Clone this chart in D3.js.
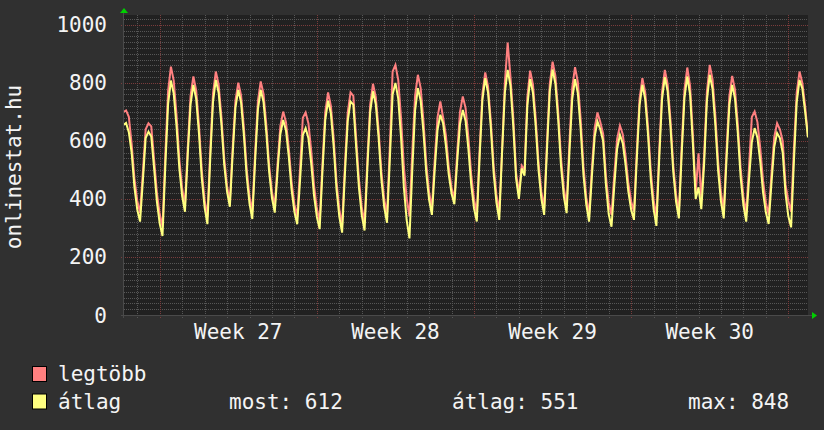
<!DOCTYPE html>
<html><head><meta charset="utf-8">
<script src="https://cdn.jsdelivr.net/npm/d3@7"></script>
<style>
html,body{margin:0;padding:0;background:#303030;}
svg{display:block;}
text{font-family:"DejaVu Sans Mono",monospace;fill:#f4f4f4;}
</style></head>
<body>
<svg id="chart" width="824" height="430"></svg>
<script>
// ---- data (3-hour samples starting 2012-06-30 09:00) ----
const seriesNames = ["legtöbb", "átlag"];
const seriesColors = ["#ff8080", "#ffff80"];
const sampleStart = new Date(2012, 5, 30, 9, 0);
const sampleStepHours = 3;
const viewStart = new Date(2012, 5, 30, 9, 50);
const viewEnd = new Date(2012, 6, 30, 21, 3);

const maxValues = [ // legtöbb
  700,705,683,590,470,
  394,352,491,640,661,650,536,422,
  347,304,552,773,856,808,689,536,
  436,379,578,756,822,774,653,498,
  397,339,564,764,839,794,682,539,
  445,391,576,740,801,757,645,503,
  409,356,558,738,805,762,654,516,
  425,373,521,652,701,665,574,458,
  382,339,501,680,698,660,566,446,
  367,322,522,700,767,721,607,461,
  365,310,516,698,767,755,610,466,
  372,318,534,725,797,752,639,494,
  399,345,578,839,862,810,679,512,
  403,340,560,755,828,782,667,520,
  423,368,534,681,736,680,618,510,
  439,399,558,700,753,713,612,484,
  399,351,569,763,836,788,668,514,
  414,356,566,800,939,820,680,490,
  420,515,500,750,842,795,676,524,
  425,368,595,797,873,824,700,542,
  438,379,593,783,854,803,676,513,
  406,345,504,645,698,665,625,480,
  387,345,484,607,653,623,549,454,
  392,356,563,747,816,768,649,496,
  396,339,567,769,845,796,674,517,
  415,356,580,778,853,790,620,420,
  557,400,550,770,862,812,687,527,
  422,362,570,755,824,777,658,507,
  408,351,509,682,701,665,576,462,
  388,345,487,614,661,640,600,450,
  393,356,573,767,839,800,720,615
];
const avgValues = [ // átlag
  655,662,630,560,440,
  363,322,462,610,632,615,506,391,
  315,272,513,728,808,763,650,505,
  410,356,553,727,793,745,625,471,
  371,313,537,735,810,766,657,517,
  425,373,554,716,776,732,620,478,
  384,331,531,709,776,734,628,493,
  404,353,497,624,672,636,546,431,
  356,313,462,620,644,609,522,411,
  338,296,495,673,739,694,580,434,
  339,284,487,668,736,725,580,438,
  344,291,507,699,771,726,612,467,
  372,318,535,760,800,746,612,441,
  328,264,497,704,782,738,629,489,
  397,345,500,638,690,660,582,484,
  419,382,528,658,707,669,572,449,
  368,322,544,742,816,767,645,489,
  387,328,561,767,845,790,650,470,
  400,505,480,720,813,766,649,499,
  401,345,570,771,846,797,673,514,
  410,351,559,744,813,764,641,484,
  381,322,477,615,667,640,600,450,
  348,304,447,573,621,592,518,425,
  363,328,537,723,793,744,623,467,
  365,307,538,743,820,771,650,494,
  391,333,553,749,822,760,590,400,
  440,365,520,740,828,779,655,496,
  392,333,540,724,793,746,628,477,
  379,322,467,596,644,611,529,423,
  354,314,455,580,627,610,560,420,
  341,302,531,734,810,780,700,612
];
const yTicks = [0, 200, 400, 600, 800, 1000];
const yMinorStep = 20;
const yMax = 1034;
const axisTitle = "onlinestat.hu";
const statLabels = ["most: 612", "átlag: 551", "max: 848"];

// ---- layout ----
const svg = d3.select("#chart");
const L = 124, R = 808, T = 15, B = 315;
const x = d3.scaleTime().domain([viewStart, viewEnd]).range([L, R]);
const y = d3.scaleLinear().domain([0, yMax]).range([B, T]);
const px = v => Math.round(v) + 0.5;

svg.append("rect").attr("width", 824).attr("height", 430).attr("fill", "#303030");
svg.append("rect").attr("x", L).attr("y", T).attr("width", R - L).attr("height", B - T).attr("fill", "#212121");

const grid = svg.append("g").attr("shape-rendering", "crispEdges");
// horizontal minor grid
d3.range(yMinorStep, yMax, yMinorStep).filter(v => v % 200 !== 0).forEach(v => {
  grid.append("line").attr("x1", L).attr("x2", R).attr("y1", px(y(v))).attr("y2", px(y(v)))
    .attr("stroke", "#565656").attr("stroke-dasharray", "1,1");
});
// vertical day grid
const days = d3.timeDay.range(d3.timeDay.ceil(viewStart), viewEnd);
days.forEach(d => {
  const major = d.getDay() === 1;
  grid.append("line").attr("x1", px(x(d))).attr("x2", px(x(d))).attr("y1", T).attr("y2", B + 3)
    .attr("stroke", major ? "#7a3c3c" : "#565656").attr("stroke-dasharray", "1,1");
});
// horizontal major grid
yTicks.filter(v => v > 0).forEach(v => {
  grid.append("line").attr("x1", L - 3).attr("x2", R).attr("y1", px(y(v))).attr("y2", px(y(v)))
    .attr("stroke", "#7a3c3c").attr("stroke-dasharray", "1,1");
});

// axes lines
grid.append("line").attr("x1", L - 3).attr("x2", R + 4).attr("y1", px(B)).attr("y2", px(B)).attr("stroke", "#4a4a4a");
grid.append("line").attr("x1", px(L - 1)).attr("x2", px(L - 1)).attr("y1", B + 3).attr("y2", T - 2).attr("stroke", "#4a4a4a");
// arrows
svg.append("path").attr("d", `M${R + 4},${B - 3} L${R + 9},${B + 0.5} L${R + 4},${B + 4} Z`).attr("fill", "#00d000");
svg.append("path").attr("d", `M${L - 4},${T - 2} L${L},${T - 7} L${L + 4},${T - 2} Z`).attr("fill", "#00d000");

// y labels
yTicks.forEach(v => {
  svg.append("text").attr("x", 107).attr("y", y(v) + 7.5).attr("text-anchor", "end")
    .attr("font-size", 21).text(v);
});
// week labels
const mondays = d3.timeMonday.range(d3.timeMonday.ceil(viewStart), viewEnd);
mondays.forEach(m => {
  const mid = d3.timeHour.offset(m, 84);
  if (mid > viewEnd) return;
  svg.append("text").attr("x", x(mid)).attr("y", 338.5).attr("text-anchor", "middle")
    .attr("font-size", 21).text("Week " + d3.timeFormat("%V")(m));
});
// axis title
svg.append("text").attr("transform", "translate(21,167) rotate(-90)").attr("text-anchor", "middle")
  .attr("font-size", 21).text(axisTitle);

// lines
const plot = svg.append("g");
svg.append("clipPath").attr("id", "clip").append("rect").attr("x", L).attr("y", T - 2).attr("width", R - L).attr("height", B - T + 2);
plot.attr("clip-path", "url(#clip)");
const timeAt = i => d3.timeHour.offset(sampleStart, i * sampleStepHours);
const line = d3.line().x((d, i) => x(timeAt(i))).y(d => y(d)).curve(d3.curveLinear);
[maxValues, avgValues].forEach((vals, k) => {
  plot.append("path").datum(vals).attr("d", line).attr("fill", "none")
    .attr("stroke", seriesColors[k]).attr("stroke-width", 2).attr("stroke-linejoin", "miter");
});

// legend
seriesNames.forEach((name, k) => {
  const yy = 366 + k * 27.5;
  svg.append("rect").attr("x", 32.5).attr("y", yy + 0.5).attr("width", 14).attr("height", 15)
    .attr("fill", seriesColors[k]).attr("stroke", "#000").attr("stroke-width", 1);
  svg.append("text").attr("x", 58).attr("y", yy + 15).attr("font-size", 21).text(name);
});
const statX = [229, 452, 688];
statLabels.forEach((s, i) => {
  svg.append("text").attr("x", statX[i]).attr("y", 408.5).attr("font-size", 21).text(s);
});
</script>
</body></html>
